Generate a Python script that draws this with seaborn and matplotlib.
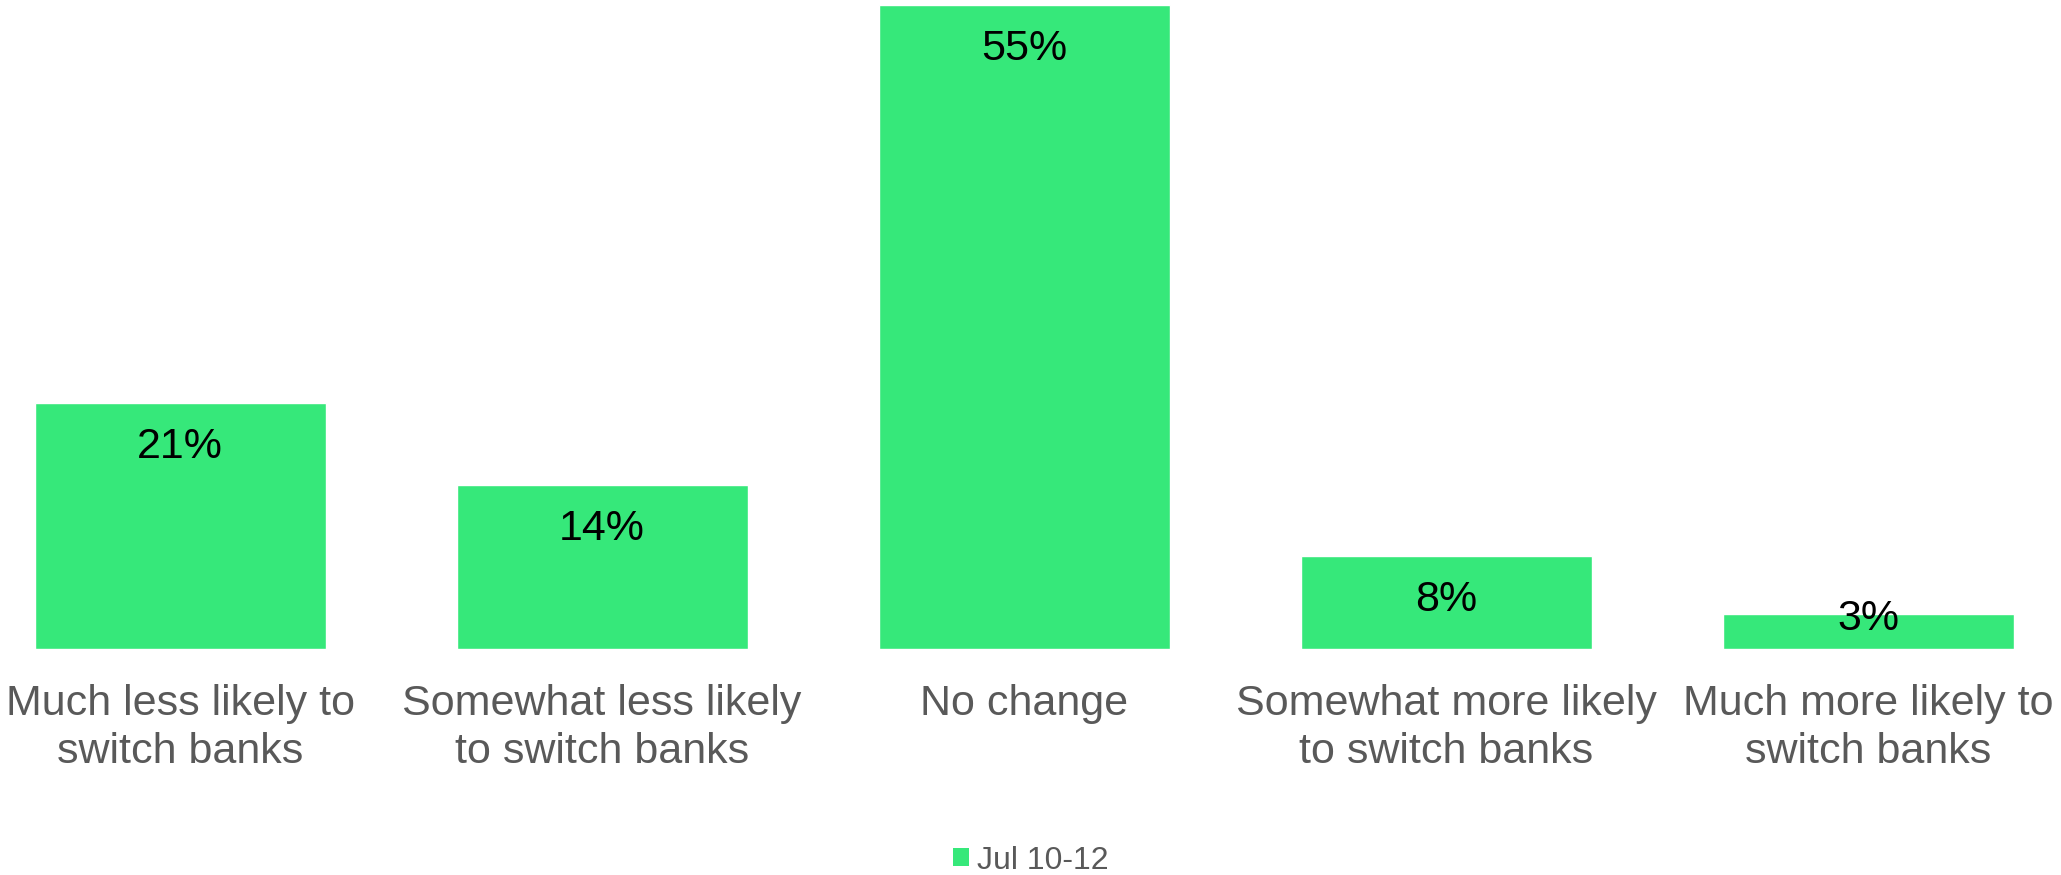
import matplotlib
matplotlib.use("Agg")
import matplotlib.pyplot as plt
import seaborn as sns
import pandas as pd
from matplotlib.patches import Patch

categories = [
    "Much less likely to\nswitch banks",
    "Somewhat less likely\nto switch banks",
    "No change",
    "Somewhat more likely\nto switch banks",
    "Much more likely to\nswitch banks",
]
values = [21, 14, 55, 8, 3]
series_name = "Jul 10-12"

bar_color = "#36E87A"
text_gray = "#595959"

sns.set_theme(style="white")
plt.rcParams["font.family"] = ["Liberation Sans", "DejaVu Sans"]

df = pd.DataFrame({"category": categories, "value": values, "series": series_name})

fig = plt.figure(figsize=(20.61, 8.75), dpi=100)
ax = fig.add_axes([0.0, 0.258, 1.0, 0.742])

sns.barplot(data=df, x="category", y="value", hue="series", palette=[bar_color],
            width=0.69, dodge=False, legend=False, ax=ax, saturation=1)

ax.set_xlim(-0.427, 4.457)
ax.set_ylim(0, 55.45)
ax.set_xlabel("")
ax.set_ylabel("")
ax.set_yticks([])
for s in ax.spines.values():
    s.set_visible(False)
ax.tick_params(axis="x", length=0, pad=25, labelsize=31, labelcolor=text_gray)
for lbl in ax.get_xticklabels():
    lbl.set_linespacing(1.27)

fig.canvas.draw()
px_per_unit = ax.transData.transform((0, 1))[1] - ax.transData.transform((0, 0))[1]
for i, v in enumerate(values):
    bar_px = v * px_per_unit
    offset_px = -min(44, bar_px - 30)
    ax.annotate(f"{v}%", xy=(i, v), xytext=(0, offset_px * 72 / 100),
                textcoords="offset points", ha="center", va="center",
                fontsize=31, color="black")

handles = [Patch(facecolor=bar_color, edgecolor="none", label=series_name)]
fig.legend(handles=handles, loc="center", bbox_to_anchor=(0.5, 0.0165), frameon=False,
           fontsize=23, labelcolor=text_gray, handlelength=0.5, handleheight=0.5,
           handletextpad=0.25, borderpad=0)

fig.savefig("out.png", dpi=100)
